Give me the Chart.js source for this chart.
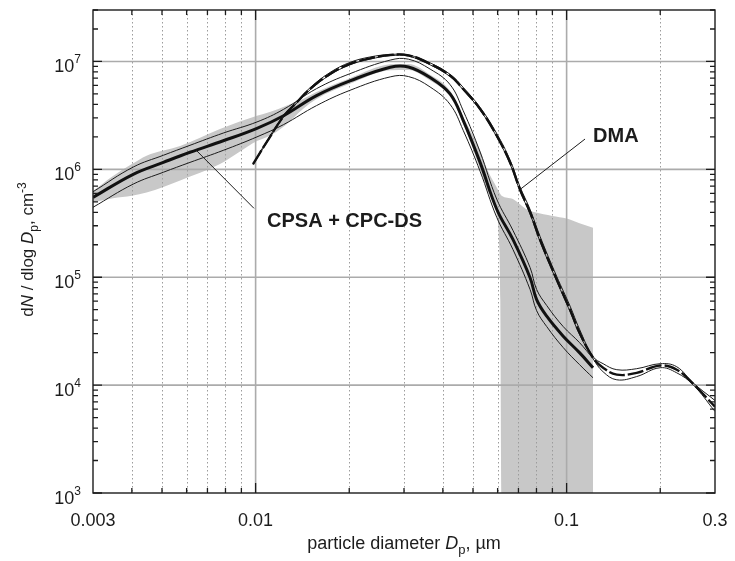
<!DOCTYPE html>
<html><head><meta charset="utf-8">
<script src="https://cdn.jsdelivr.net/npm/chart.js@4.4.1/dist/chart.umd.min.js"></script>
<style>html,body{margin:0;padding:0;background:#fff;}canvas{display:block;}</style>
</head><body>
<canvas id="c" width="735" height="561"></canvas>
<script>
// ---------- DATA (particle diameter in µm, dN/dlogDp in cm^-3) ----------
const cpsaX     = [0.003, 0.00404, 0.00505, 0.00615, 0.00787, 0.0101, 0.0123, 0.0157, 0.0201, 0.0271, 0.031, 0.0364, 0.0422, 0.0465, 0.0527, 0.0596, 0.0672, 0.0763, 0.0801, 0.0863, 0.0975, 0.110, 0.1216];
const cpsaMean  = [5.5e5, 9.0e5, 1.16e6, 1.44e6, 1.84e6, 2.4e6, 3.14e6, 4.82e6, 6.6e6, 8.85e6, 8.9e6, 7.1e6, 5.0e6, 2.85e6, 1.16e6, 4.27e5, 2.24e5, 9.9e4, 6.2e4, 4.35e4, 2.84e4, 2.0e4, 1.45e4];
const cpsaUpper = [6.2e5, 1.05e6, 1.35e6, 1.67e6, 2.17e6, 2.75e6, 3.6e6, 5.6e6, 7.7e6, 1.03e7, 1.05e7, 8.5e6, 6.1e6, 3.5e6, 1.45e6, 5.3e5, 2.72e5, 1.23e5, 7.7e4, 5.47e4, 3.49e4, 2.48e4, 1.76e4];
const cpsaLower = [4.45e5, 7.3e5, 9.4e5, 1.16e6, 1.5e6, 2.0e6, 2.6e6, 3.9e6, 5.4e6, 7.2e6, 7.25e6, 5.8e6, 4.0e6, 2.3e6, 9.6e5, 3.6e5, 1.81e5, 7.7e4, 4.9e4, 3.49e4, 2.23e4, 1.55e4, 1.17e4];

const bandX  = [0.003, 0.00348, 0.0040, 0.00446, 0.00572, 0.00768, 0.0101, 0.0111, 0.0125, 0.0142, 0.0157, 0.0201, 0.0271, 0.031, 0.0364, 0.0422, 0.0465, 0.0527, 0.0555, 0.0596, 0.0608, 0.0612, 0.0618, 0.0672, 0.0742, 0.0790, 0.0900, 0.1, 0.110, 0.1216];
const bandHi = [6.3e5, 8.7e5, 1.12e6, 1.34e6, 1.65e6, 2.37e6, 3.14e6, 3.4e6, 3.87e6, 4.49e6, 5.2e6, 7.0e6, 9.4e6, 9.5e6, 7.55e6, 5.35e6, 3.05e6, 1.5e6, 1.0e6, 6.8e5, 6.1e5, 5.9e5, 5.7e5, 5.3e5, 4.27e5, 4.0e5, 3.7e5, 3.5e5, 3.16e5, 2.88e5];
const bandLo = [4.96e5, 5.4e5, 5.7e5, 6.1e5, 7.9e5, 1.12e6, 1.83e6, 2.05e6, 2.58e6, 3.63e6, 4.49e6, 6.2e6, 8.3e6, 8.35e6, 6.65e6, 4.7e6, 2.67e6, 1.0e6, 6.5e5, 3.84e5, 1.81e5, 6.2e4, 1e3, 1e3, 1e3, 1e3, 1e3, 1e3, 1e3, 1e3];

const dmaX     = [0.00981, 0.0108, 0.0123, 0.0135, 0.01496, 0.01734, 0.0201, 0.0233, 0.0271, 0.031, 0.0364, 0.0422, 0.0465, 0.0527, 0.0596, 0.0658, 0.0708, 0.0763, 0.0821, 0.0929, 0.1026, 0.110, 0.1216, 0.131, 0.145, 0.168, 0.200, 0.226, 0.255, 0.3];
const dmaMean  = [1.12e6, 1.75e6, 3.1e6, 4.12e6, 5.56e6, 7.67e6, 9.5e6, 1.07e7, 1.15e7, 1.14e7, 9.5e6, 7.4e6, 5.56e6, 3.63e6, 2.05e6, 1.16e6, 6.5e5, 4.0e5, 2.24e5, 9.55e4, 5.0e4, 3.07e4, 1.8e4, 1.45e4, 1.25e4, 1.3e4, 1.52e4, 1.39e4, 1.03e4, 6.3e3];
const dmaUpper = [1.12e6, 1.78e6, 3.15e6, 4.2e6, 5.7e6, 7.9e6, 9.8e6, 1.1e7, 1.16e7, 1.15e7, 9.7e6, 7.6e6, 5.75e6, 3.75e6, 2.15e6, 1.22e6, 6.9e5, 4.25e5, 2.4e5, 1.02e5, 5.4e4, 3.3e4, 1.84e4, 1.58e4, 1.39e4, 1.42e4, 1.58e4, 1.48e4, 1.05e4, 7.2e3];
const dmaLower = [1.1e6, 1.72e6, 3.05e6, 4.05e6, 5.45e6, 7.5e6, 9.3e6, 1.05e7, 1.13e7, 1.12e7, 9.3e6, 7.25e6, 5.45e6, 3.55e6, 2.0e6, 1.12e6, 6.3e5, 3.85e5, 2.15e5, 9.2e4, 4.8e4, 2.95e4, 1.76e4, 1.33e4, 1.12e4, 1.2e4, 1.45e4, 1.30e4, 1.01e4, 5.7e3];

const xTickValues = [0.003, 0.01, 0.1, 0.3];
const xTickLabels = ['0.003', '0.01', '0.1', '0.3'];
const xMajorGrid  = [0.01, 0.1];
const xMinorGrid  = [0.004, 0.005, 0.006, 0.007, 0.008, 0.009, 0.02, 0.03, 0.04, 0.05, 0.06, 0.07, 0.08, 0.09, 0.2];
const yTickExps   = [3, 4, 5, 6, 7];
const yMajorGrid  = [1e4, 1e5, 1e6, 1e7];

// annotation anchors (data units)
const notes = [
  {text: 'CPSA + CPC-DS', from: [0.00643, 1.51e6], to: [0.00988, 4.35e5], label: [0.01088, 2.9e5]},
  {text: 'DMA', from: [0.0708, 6.5e5], to: [0.1146, 1.91e6], label: [0.1216, 1.79e6]}
];

const pts = (xs, ys) => xs.map((v, i) => ({x: v, y: ys[i]}));
const FONT = '"Liberation Sans", Arial, Helvetica, sans-serif';
const INK = '#1c1c1c';

const decor = {
  id: 'decor',
  beforeDatasetsDraw(chart) {
    const {ctx, chartArea: a, scales: {x, y}} = chart;
    ctx.save();
    ctx.lineWidth = 1;
    ctx.strokeStyle = '#9c9c9c';
    ctx.setLineDash([1.5, 2.5]);
    xMinorGrid.forEach(v => {
      const px = Math.round(x.getPixelForValue(v)) + 0.5;
      ctx.beginPath(); ctx.moveTo(px, a.top); ctx.lineTo(px, a.bottom); ctx.stroke();
    });
    ctx.setLineDash([]);
    ctx.strokeStyle = '#ababab';
    ctx.lineWidth = 1.6;
    xMajorGrid.forEach(v => {
      const px = x.getPixelForValue(v);
      ctx.beginPath(); ctx.moveTo(px, a.top); ctx.lineTo(px, a.bottom); ctx.stroke();
    });
    yMajorGrid.forEach(v => {
      const py = y.getPixelForValue(v);
      ctx.beginPath(); ctx.moveTo(a.left, py); ctx.lineTo(a.right, py); ctx.stroke();
    });
    ctx.restore();
  },
  afterDatasetsDraw(chart) {
    const {ctx, chartArea: a, scales: {x, y}} = chart;
    ctx.save();
    ctx.strokeStyle = INK; ctx.lineWidth = 1.4;
    ctx.strokeRect(a.left, a.top, a.right - a.left, a.bottom - a.top);
    ctx.lineWidth = 1.3;
    const xt = [...xMinorGrid.map(v => [v, 5]), ...xMajorGrid.map(v => [v, 10])];
    xt.forEach(([v, L]) => {
      const px = x.getPixelForValue(v);
      ctx.beginPath(); ctx.moveTo(px, a.bottom); ctx.lineTo(px, a.bottom - L);
      ctx.moveTo(px, a.top); ctx.lineTo(px, a.top + L); ctx.stroke();
    });
    yTickExps.forEach(e => {
      for (let m = 1; m <= 9; m++) {
        const v = m * Math.pow(10, e);
        if (v > y.max) break;
        const L = m === 1 ? 9 : 5;
        const py = y.getPixelForValue(v);
        ctx.beginPath(); ctx.moveTo(a.left, py); ctx.lineTo(a.left + L, py);
        ctx.moveTo(a.right, py); ctx.lineTo(a.right - L, py); ctx.stroke();
      }
    });
    ctx.fillStyle = INK;
    ctx.textBaseline = 'alphabetic';
    ctx.font = '18px ' + FONT;
    ctx.textAlign = 'center';
    xTickValues.forEach((v, i) => {
      ctx.fillText(xTickLabels[i], x.getPixelForValue(v), a.bottom + 33);
    });
    ctx.textAlign = 'left';
    yTickExps.forEach(e => {
      const py = y.getPixelForValue(Math.pow(10, e));
      ctx.font = '12px ' + FONT; const ws = ctx.measureText(String(e)).width;
      ctx.font = '18px ' + FONT; const wm = ctx.measureText('10').width;
      const right = a.left - 12;
      ctx.fillText('10', right - ws - wm, py + 11);
      ctx.font = '12px ' + FONT;
      ctx.fillText(String(e), right - ws, py + 2);
    });
    const xt2 = [['particle diameter ', 'n'], ['D', 'i'], ['p', 'sub'], [', µm', 'n']];
    drawRich(ctx, xt2, (a.left + a.right) / 2, a.bottom + 56, 18);
    ctx.save();
    ctx.translate(33, (a.top + a.bottom) / 2 - 2);
    ctx.rotate(-Math.PI / 2);
    const yt = [['d', 'n'], ['N', 'i'], [' / dlog ', 'n'], ['D', 'i'], ['p', 'sub'], [', cm', 'n'], ['-3', 'sup']];
    drawRich(ctx, yt, 0, 0, 17);
    ctx.restore();
    ctx.strokeStyle = INK; ctx.lineWidth = 1;
    notes.forEach(n => {
      ctx.beginPath();
      ctx.moveTo(x.getPixelForValue(n.from[0]), y.getPixelForValue(n.from[1]));
      ctx.lineTo(x.getPixelForValue(n.to[0]), y.getPixelForValue(n.to[1]));
      ctx.stroke();
      ctx.font = 'bold 20px ' + FONT;
      ctx.textAlign = 'left';
      ctx.fillText(n.text, x.getPixelForValue(n.label[0]), y.getPixelForValue(n.label[1]));
    });
    ctx.restore();
  }
};

function drawRich(ctx, parts, cx, baseY, size) {
  const fontFor = k => (k === 'i' ? 'italic ' + size + 'px ' : (k === 'sub' || k === 'sup') ? Math.round(size * 0.7) + 'px ' : size + 'px ') + FONT;
  let total = 0;
  parts.forEach(([t, k]) => { ctx.font = fontFor(k); total += ctx.measureText(t).width; });
  let xx = cx - total / 2;
  ctx.textAlign = 'left';
  ctx.fillStyle = INK;
  parts.forEach(([t, k]) => {
    ctx.font = fontFor(k);
    const dy = k === 'sub' ? size * 0.3 : k === 'sup' ? -size * 0.42 : 0;
    ctx.fillText(t, xx, baseY + dy);
    xx += ctx.measureText(t).width;
  });
}

const line = (data, w, extra) => Object.assign({
  data, borderColor: INK, borderWidth: w, pointRadius: 0, fill: false, tension: 0.4
}, extra || {});

new Chart(document.getElementById('c'), {
  type: 'line',
  data: {
    datasets: [
      line(pts(dmaX, dmaMean), 2.4, {order: 1, borderDash: [16, 3], borderColor: '#111'}),
      line(pts(dmaX, dmaUpper), 1, {order: 2}),
      line(pts(dmaX, dmaLower), 1, {order: 3}),
      line(pts(cpsaX, cpsaMean), 3, {order: 4, borderColor: '#111'}),
      line(pts(cpsaX, cpsaUpper), 1, {order: 5}),
      line(pts(cpsaX, cpsaLower), 1, {order: 6}),
      line(pts(bandX, bandHi), 1, {order: 7, borderColor: 'rgba(0,0,0,0)', fill: '+1', backgroundColor: '#c8c8c8', tension: 0, cubicInterpolationMode: 'monotone'}),
      line(pts(bandX, bandLo), 1, {order: 8, borderColor: 'rgba(0,0,0,0)', tension: 0, cubicInterpolationMode: 'monotone'})
    ]
  },
  options: {
    responsive: false,
    animation: false,
    devicePixelRatio: 1,
    layout: {padding: {left: 93, right: 20, top: 10, bottom: 68}},
    plugins: {legend: {display: false}, tooltip: {enabled: false}, filler: {drawTime: 'beforeDraw'}},
    scales: {
      x: {type: 'logarithmic', min: 0.003, max: 0.3, display: false},
      y: {type: 'logarithmic', min: 1e3, max: 3e7, display: false}
    }
  },
  plugins: [decor]
});
</script>
</body></html>
